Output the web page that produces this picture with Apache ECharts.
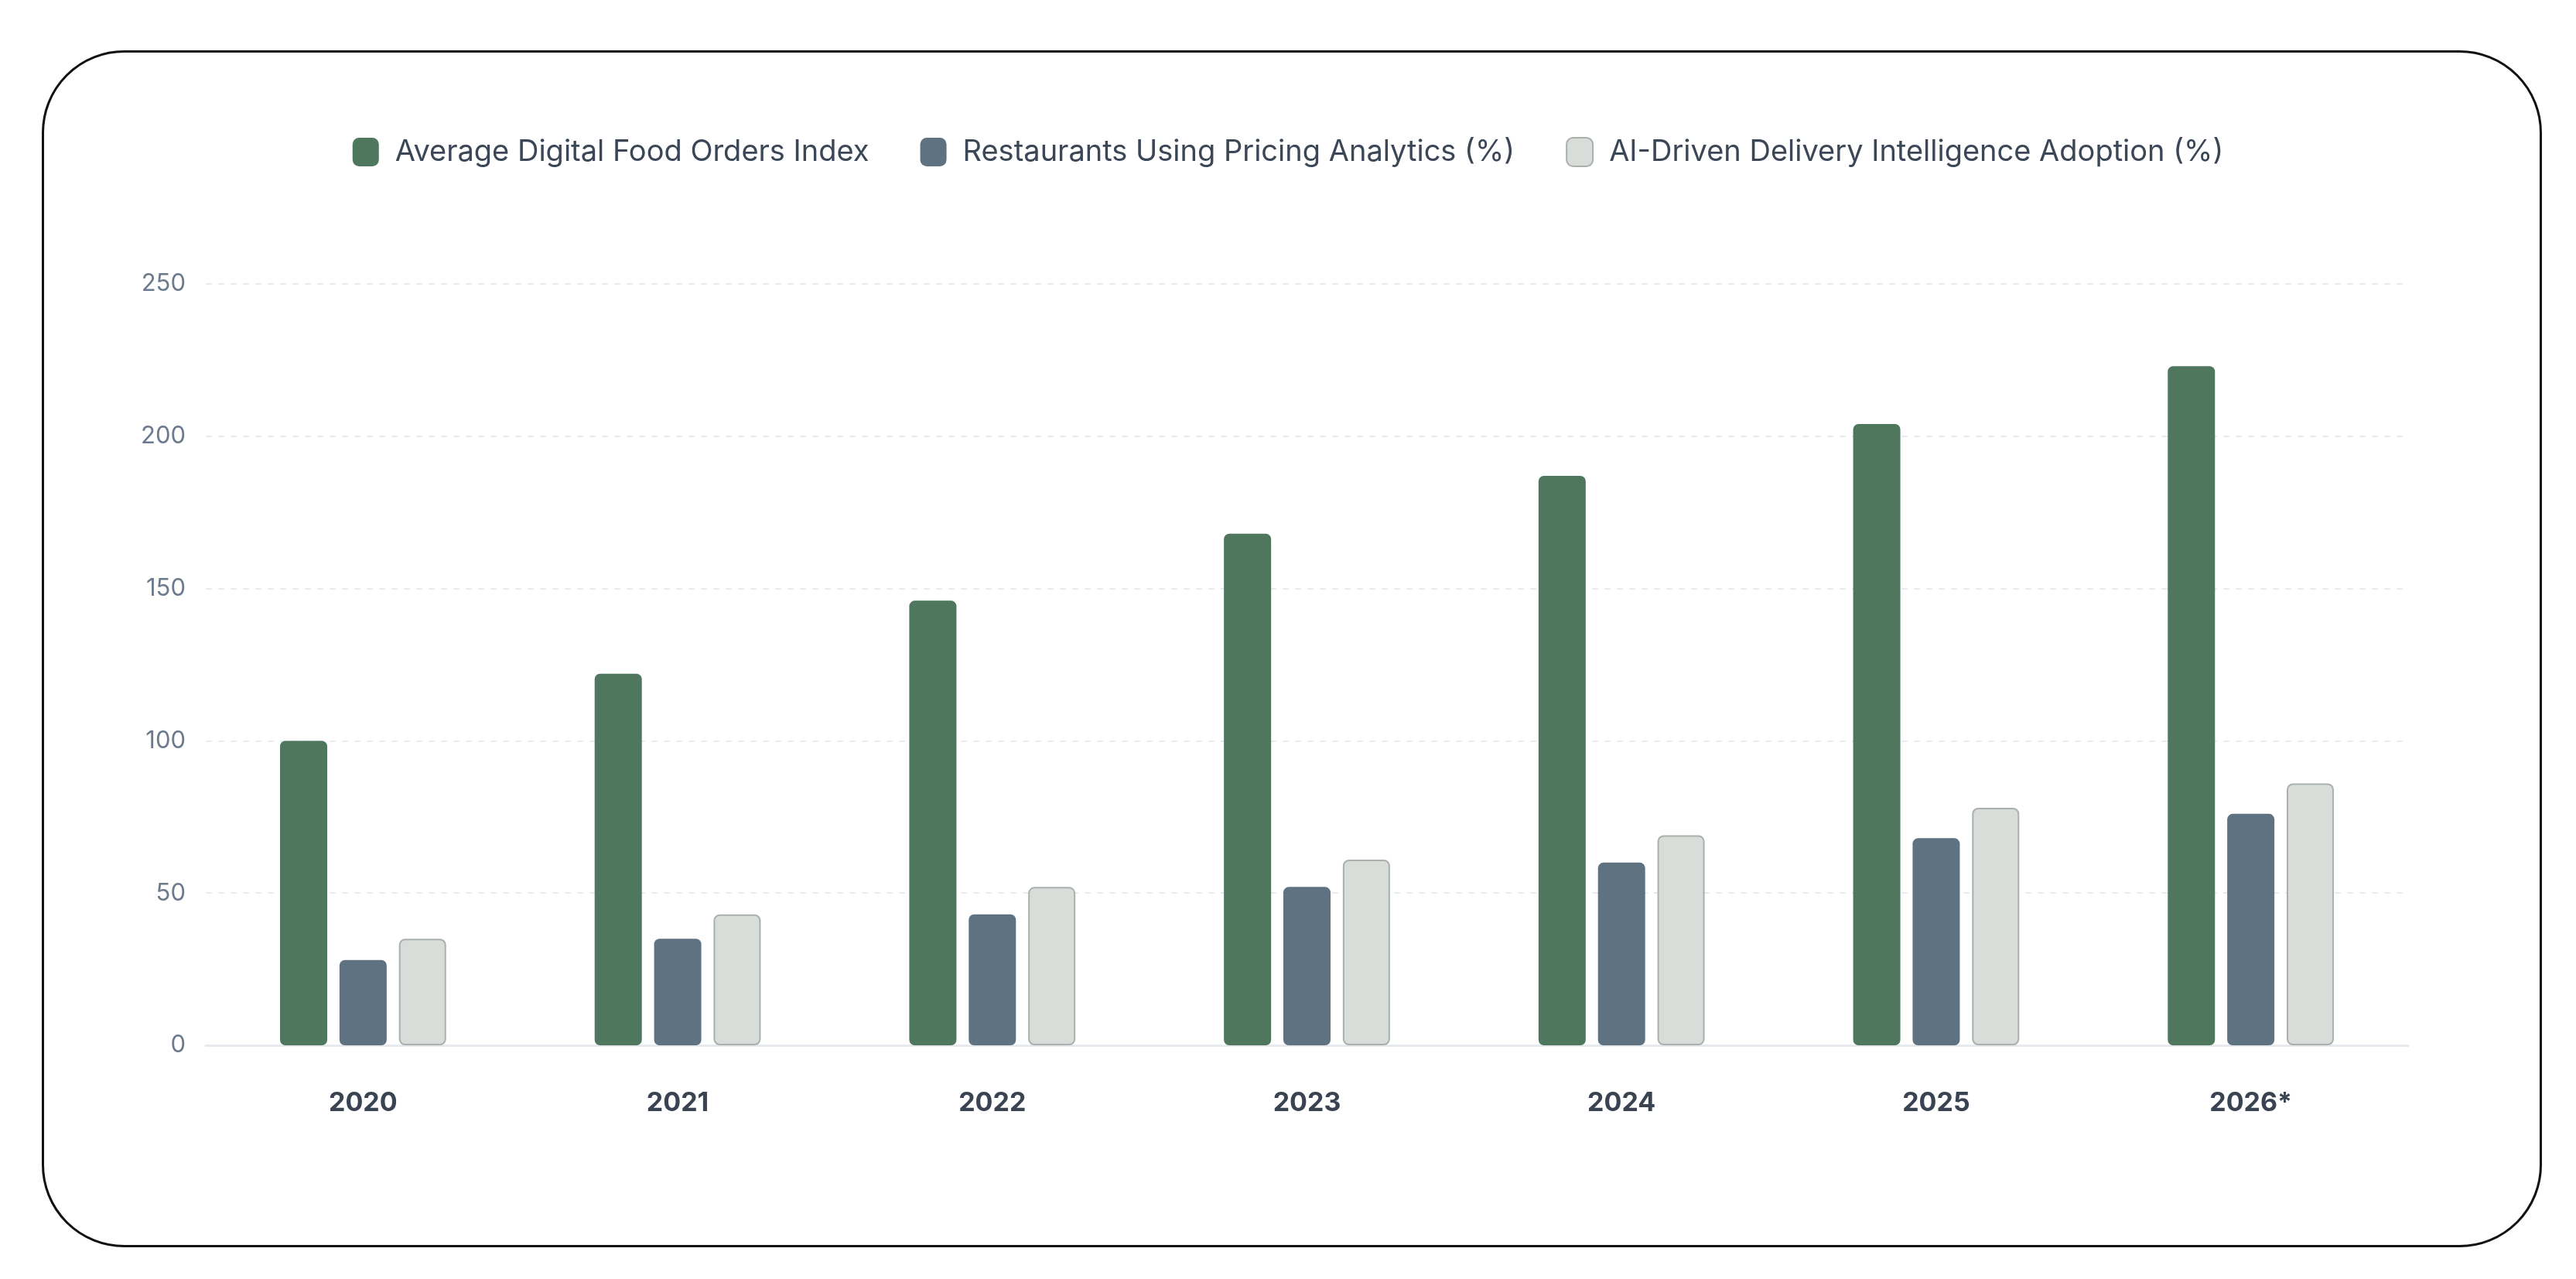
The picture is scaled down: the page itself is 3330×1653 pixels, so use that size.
<!DOCTYPE html>
<html>
<head>
<meta charset="utf-8">
<title>Digital food orders</title>
<script src="https://cdn.jsdelivr.net/npm/echarts@6/dist/echarts.min.js"></script>
<style>
  html, body { margin: 0; padding: 0; background: #ffffff; }
  #chart { width: 3330px; height: 1653px; }
</style>
</head>
<body>
<div id="chart"></div>
<script>
// categories and values
var years = ['2020', '2021', '2022', '2023', '2024', '2025', '2026*'];
var ordersIndex = [100, 122, 146, 168, 187, 204, 223];
var pricingAnalytics = [28, 35, 43, 52, 60, 68, 76];
var aiDelivery = [35, 43, 52, 61, 69, 78, 86];
var seriesNames = [
  'Average Digital Food Orders Index',
  'Restaurants Using Pricing Analytics (%)',
  'AI-Driven Delivery Intelligence Adoption (%)'
];

var chart = echarts.init(document.getElementById('chart'));

// one bar series
function barSeries(name, data, color, border) {
  return {
    name: name,
    type: 'bar',
    data: data,
    barWidth: 61,
    barGap: '26%',
    itemStyle: {
      color: color,
      borderRadius: 7,
      borderColor: border || color,
      borderWidth: border ? 2 : 0
    }
  };
}

var option = {
  backgroundColor: '#ffffff',
  textStyle: { fontFamily: 'Inter, "Noto Sans", sans-serif' },
  graphic: [{
    type: 'rect',
    left: 53,
    top: 64,
    shape: { width: 3229, height: 1544, r: 105 },
    style: { fill: 'none', stroke: '#111111', lineWidth: 3 },
    silent: true
  }],
  legend: {
    data: seriesNames,
    top: 172,
    left: 'center',
    itemWidth: 34,
    itemHeight: 37,
    itemGap: 66,
    textStyle: { fontSize: 38, color: '#3b4656', padding: [0, 0, 0, 16] },
    icon: 'roundRect'
  },
  grid: { left: 266, right: 217, top: 367, bottom: 302 },
  xAxis: {
    type: 'category',
    data: years,
    axisTick: { show: false },
    axisLine: { lineStyle: { color: '#e6eaee', width: 3 } },
    axisLabel: { fontSize: 34, fontWeight: 'bold', color: '#3a4352', margin: 58 }
  },
  yAxis: {
    type: 'value',
    min: 0,
    max: 250,
    interval: 50,
    axisLine: { show: false },
    axisTick: { show: false },
    axisLabel: { fontSize: 31, color: '#6b7a8c', margin: 26 },
    splitLine: { lineStyle: { color: '#e8eaed', type: [8, 8], width: 2 } }
  },
  series: [
    barSeries(seriesNames[0], ordersIndex, '#4e775d'),
    barSeries(seriesNames[1], pricingAnalytics, '#5f7282'),
    barSeries(seriesNames[2], aiDelivery, '#d8ddd9', '#aab1ac')
  ]
};

chart.setOption(option);
</script>
</body>
</html>
